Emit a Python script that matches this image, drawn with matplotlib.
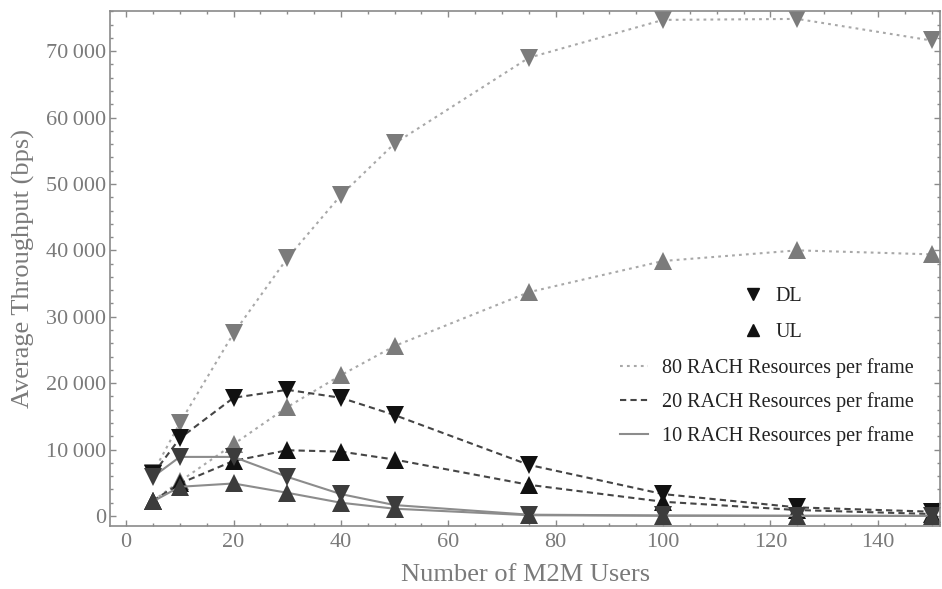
import matplotlib
matplotlib.use('Agg')
from matplotlib import pyplot as plt
from matplotlib.lines import Line2D
from matplotlib.ticker import FuncFormatter, MultipleLocator

users = [5, 10, 20, 30, 40, 50, 75, 100, 125, 150]

# 80 RACH resources per frame
dl_80 = [6500, 14000, 27500, 38800, 48300, 56100, 69000, 74700, 74850, 71600]
ul_80 = [2300, 5200, 10800, 16400, 21200, 25600, 33700, 38400, 40000, 39400]
# 20 RACH resources per frame
dl_20 = [6300, 11700, 17800, 19000, 17800, 15200, 7700, 3300, 1300, 650]
ul_20 = [2300, 4900, 8300, 9900, 9700, 8500, 4700, 2150, 900, 300]
# 10 RACH resources per frame
dl_10 = [5900, 8900, 8900, 5900, 3300, 1650, 200, 80, 40, 20]
ul_10 = [2200, 4400, 4900, 3500, 2000, 1100, 120, 40, 20, 10]

SERIF = ['Liberation Serif', 'DejaVu Serif']
AXIS_GRAY = '#8a8a8a'
TEXT_GRAY = '#7a7a7a'


def thousands(v, _):
    if v == 0:
        return '0'
    return f'{int(v):,}'.replace(',', '\u2009')


def main():
    plt.rcParams['font.family'] = SERIF
    plt.rcParams['lines.scale_dashes'] = False

    fig = plt.figure(figsize=(9.42, 5.89), dpi=100)
    ax = fig.add_axes([0.1168, 0.107, 0.8812, 0.875])

    series = [
        (dl_80, ul_80, '#a8a8a8', (0, (2, 3)), '#7b7b7b'),
        (dl_20, ul_20, '#454545', (0, (4.5, 3)), '#111111'),
        (dl_10, ul_10, '#8c8c8c', '-', '#3c3c3c'),
    ]
    for dl, ul, line_color, ls, marker_color in series:
        for values, marker in [(dl, 'v'), (ul, '^')]:
            ax.plot(users, values, color=line_color, linestyle=ls, lw=1.5,
                    marker=marker, markersize=13.5, markerfacecolor=marker_color,
                    markeredgewidth=0, zorder=2)

    ax.set_xlim(-3, 151.6)
    ax.set_ylim(-1500, 76100)
    ax.xaxis.set_major_locator(MultipleLocator(20))
    ax.xaxis.set_minor_locator(MultipleLocator(5))
    ax.yaxis.set_major_locator(MultipleLocator(10000))
    ax.yaxis.set_minor_locator(MultipleLocator(2000))
    ax.yaxis.set_major_formatter(FuncFormatter(thousands))

    for spine in ax.spines.values():
        spine.set_color(AXIS_GRAY)
        spine.set_linewidth(1.2)
    ax.tick_params(which='both', direction='in', top=True, right=True,
                   color=AXIS_GRAY, width=1)
    ax.tick_params(which='major', length=4, labelsize=16, labelcolor=TEXT_GRAY)
    ax.tick_params(which='minor', length=2.5)
    ax.tick_params(axis='x', pad=5)
    ax.tick_params(axis='y', pad=3)

    ax.set_xlabel('Number of M2M Users', fontsize=19, color=TEXT_GRAY, labelpad=9)
    ax.set_ylabel('Average Throughput (bps)', fontsize=19, color=TEXT_GRAY, labelpad=8)

    # marker legend
    marker_handles = [
        Line2D([], [], linestyle='none', marker='v', color='#111111', markersize=8),
        Line2D([], [], linestyle='none', marker='^', color='#111111', markersize=8),
    ]
    leg1 = ax.legend(marker_handles, ['DL', 'UL'], loc='center left',
                     bbox_to_anchor=(743 / 942, 1 - 314.5 / 589), bbox_transform=fig.transFigure,
                     frameon=False, fontsize=14.5, handlelength=0.95, handletextpad=0.65,
                     labelspacing=0.8, borderpad=0, borderaxespad=0, labelcolor='#222222')
    ax.add_artist(leg1)

    # line style legend
    line_handles = [Line2D([], [], color=c, linestyle=ls, lw=1.5) for _, _, c, ls, _ in series]
    line_labels = ['80 RACH Resources per frame', '20 RACH Resources per frame',
                   '10 RACH Resources per frame']
    ax.legend(line_handles, line_labels, loc='center left',
              bbox_to_anchor=(620 / 942, 1 - 402 / 589), bbox_transform=fig.transFigure,
              frameon=False, fontsize=14.5, handlelength=1.4, handletextpad=0.7,
              labelspacing=0.7, borderpad=0, borderaxespad=0, labelcolor='#222222')

    fig.savefig('out.png', dpi=100)


if __name__ == '__main__':
    main()
